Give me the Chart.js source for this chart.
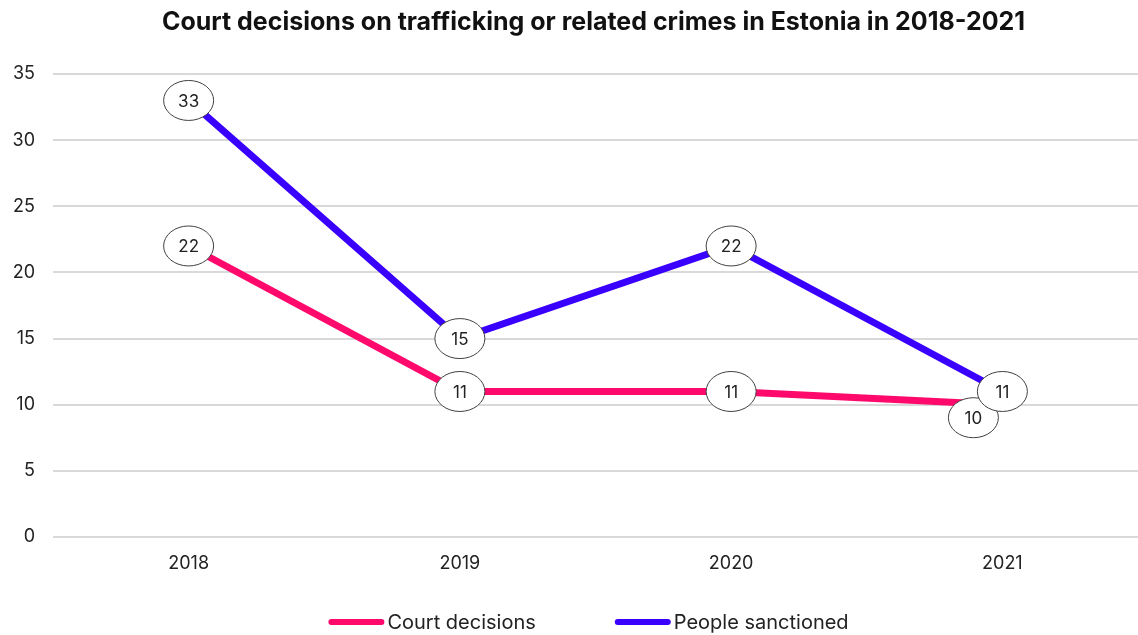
<!DOCTYPE html>
<html>
<head>
<meta charset="utf-8">
<script src="https://cdn.jsdelivr.net/npm/chart.js@4"></script>
<style>
  html, body { margin: 0; padding: 0; background: #fff; }
  #wrap { width: 1138px; height: 635px; }
</style>
</head>
<body>
<div id="wrap"><canvas id="chart"></canvas></div>
<script>
const years = ['2018', '2019', '2020', '2021'];
const courtDecisions = [22, 11, 11, 10];
const peopleSanctioned = [33, 15, 22, 11];
const yTicks = [0, 5, 10, 15, 20, 25, 30, 35];
const chartTitle = 'Court decisions on trafficking or related crimes in Estonia in 2018-2021';

const FONT = 'Inter, "Noto Sans", sans-serif';

// label bubble offsets (px), only the 2021 court label is nudged aside
const labelShift = {
  0: { 3: [-29, 13] },
};

const bubbleLabels = {
  id: 'bubbleLabels',
  afterDatasetsDraw(chart) {
    const ctx = chart.ctx;
    chart.data.datasets.forEach((ds, di) => {
      const meta = chart.getDatasetMeta(di);
      meta.data.forEach((pt, i) => {
        const shift = (labelShift[di] && labelShift[di][i]) || [0, 0];
        const x = pt.x + shift[0];
        const y = pt.y + shift[1];
        ctx.save();
        ctx.beginPath();
        ctx.ellipse(x, y, 25, 20, 0, 0, Math.PI * 2);
        ctx.fillStyle = '#fff';
        ctx.fill();
        ctx.lineWidth = 1;
        ctx.strokeStyle = '#404040';
        ctx.stroke();
        ctx.fillStyle = '#222';
        ctx.font = '17px ' + FONT;
        ctx.textAlign = 'center';
        ctx.textBaseline = 'middle';
        ctx.fillText(String(ds.data[i]), x, y + 1);
        ctx.restore();
      });
    });
  }
};

// title + legend centred over the plot area, like the original
const frame = {
  id: 'frame',
  afterDraw(chart) {
    const ctx = chart.ctx;
    const area = chart.chartArea;
    const cx = (area.left + area.right) / 2;
    ctx.save();
    ctx.fillStyle = '#111';
    ctx.font = 'bold 25px ' + FONT;
    ctx.textAlign = 'center';
    ctx.textBaseline = 'middle';
    ctx.fillText(chartTitle, cx - 2, 22);

    ctx.font = '20px ' + FONT;
    const swatch = 56, gapText = 3, gapItem = 79;
    const items = chart.data.datasets.map((ds) => ({
      text: ds.label, color: ds.borderColor, w: ctx.measureText(ds.label).width,
    }));
    const total = items.reduce((a, it) => a + swatch + gapText + it.w, 0) + gapItem * (items.length - 1);
    let x = cx - 7 - total / 2;
    const y = 622;
    ctx.textAlign = 'left';
    items.forEach((it) => {
      ctx.strokeStyle = it.color;
      ctx.lineWidth = 6;
      ctx.lineCap = 'round';
      ctx.beginPath();
      ctx.moveTo(x + 3, y);
      ctx.lineTo(x + swatch - 3, y);
      ctx.stroke();
      ctx.fillStyle = '#222';
      ctx.fillText(it.text, x + swatch + gapText, y + 1);
      x += swatch + gapText + it.w + gapItem;
    });
    ctx.restore();
  }
};

new Chart(document.getElementById('chart'), {
  type: 'line',
  data: {
    labels: years,
    datasets: [
      {
        label: 'Court decisions',
        data: courtDecisions,
        borderColor: '#ff0a6c',
        backgroundColor: '#ff0a6c',
        borderWidth: 7,
        pointRadius: 0,
        tension: 0,
      },
      {
        label: 'People sanctioned',
        data: peopleSanctioned,
        borderColor: '#3a00ff',
        backgroundColor: '#3a00ff',
        borderWidth: 7,
        pointRadius: 0,
        tension: 0,
      },
    ],
  },
  options: {
    responsive: true,
    maintainAspectRatio: false,
    animation: false,
    layout: { padding: { left: 0, right: 0, top: 74, bottom: 48 } },
    plugins: {
      title: { display: false },
      legend: { display: false },
      tooltip: { enabled: false },
    },
    scales: {
      x: {
        offset: true,
        grid: { display: false },
        border: { display: false },
        ticks: { color: '#222', font: { family: FONT, size: 18 }, padding: 8 },
        afterFit: (s) => { s.height = 50; },
      },
      y: {
        min: 0,
        max: 35,
        afterBuildTicks: (s) => { s.ticks = yTicks.map((v) => ({ value: v })); },
        grid: { color: '#d9d9d9', lineWidth: 2, drawTicks: false },
        border: { display: false },
        ticks: { color: '#222', font: { family: FONT, size: 18 }, padding: 18 },
        afterFit: (s) => { s.width = 53; },
      },
    },
  },
  plugins: [bubbleLabels, frame],
});
</script>
</body>
</html>
